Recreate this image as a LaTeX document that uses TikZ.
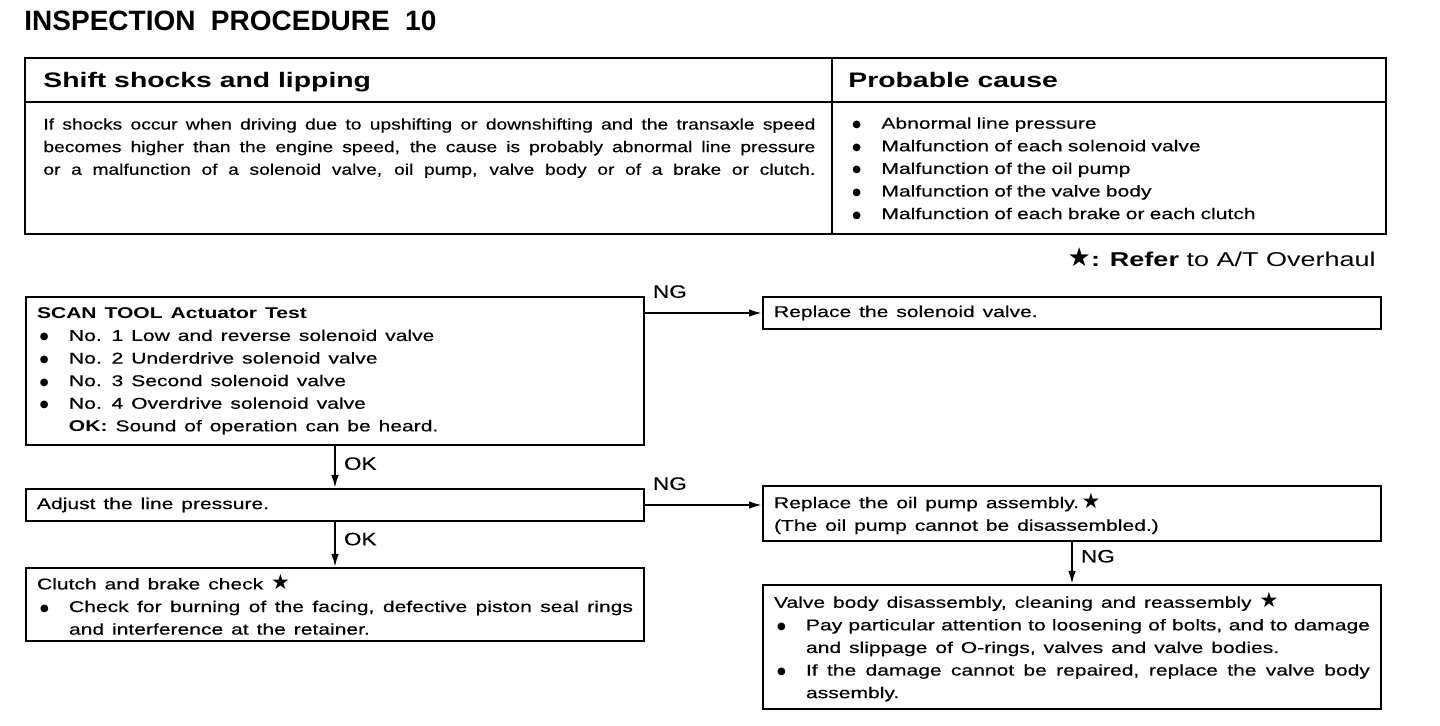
\documentclass[tikz,border=0pt]{standalone}
\usepackage{fontspec}
\setmainfont[FakeStretch=1.35,WordSpace=1.35,UprightFeatures={FakeBold=0.4}]{Liberation Sans}
\newfontfamily\titlefont{Liberation Sans}
\newfontfamily\headfont[FakeStretch=1.35]{Liberation Sans}
\newfontfamily\descfont[FakeStretch=1.25,UprightFeatures={FakeBold=0.4}]{Liberation Sans}
\newfontfamily\symfont{DejaVu Sans}
\usetikzlibrary{arrows.meta, positioning}

\newcommand{\bodytext}{\fontsize{7.8pt}{11.3pt}\selectfont\hyphenpenalty=10000}
\newcommand{\refstar}{{\symfont\mdseries\fontsize{10.5pt}{11.3pt}\selectfont ★}}
\newcommand{\dotmark}{{\symfont\mdseries\fontsize{5pt}{5pt}\selectfont\raisebox{0.5pt}{●}}}
\newcommand{\bitem}[1]{\hangindent=16pt\hangafter=1\noindent\makebox[16pt][l]{\hspace{1.5pt}\dotmark}#1\par}

\tikzset{
  flowbox/.style={draw, line width=1pt, anchor=north west, minimum width=309pt,
    text width=298pt, inner xsep=5.5pt, inner ysep=0pt, align=justify, font=\bodytext},
  flowarrow/.style={line width=1pt, -{Latex[length=6.5pt,width=3.8pt]}},
  flowlabel/.style={font=\descfont\fontsize{9pt}{10pt}\selectfont, inner sep=1pt},
  headtext/.style={font=\headfont\fontsize{10.5pt}{12pt}\selectfont\bfseries, inner sep=0pt, anchor=base west},
}

\begin{document}
\begin{tikzpicture}[x=0.5pt, y=-0.5pt]
  \useasboundingbox (0,0) rectangle (1440,726);

  % Titre
  \node[anchor=base west, inner sep=0pt, font=\titlefont\fontsize{14pt}{16pt}\selectfont\bfseries]
    (title) at (24,31) {INSPECTION\hspace{0.55em}PROCEDURE\hspace{0.55em}10};

  % Tableau
  \draw[line width=1pt] (25,58) rectangle (1386,234);
  \draw[line width=1pt] (25,102) -- (1386,102);
  \draw[line width=1pt] (832,58) -- (832,234);
  \node[headtext] (symptom) at (43,88) {Shift shocks and lipping};
  \node[headtext] (cause) at (848,88) {Probable cause};
  \node[anchor=north west, inner sep=0pt, text width=386pt, align=justify,
    font=\descfont\fontsize{7.7pt}{11.3pt}\selectfont] (symptomtext) at (43,118)
    {\parfillskip=0pt If shocks occur when driving due to upshifting or downshifting and the transaxle speed\linebreak
     becomes higher than the engine speed, the cause is probably abnormal line pressure\linebreak
     or a malfunction of a solenoid valve, oil pump, valve body or of a brake or clutch.\par};
  \node[anchor=north west, inner sep=0pt, text width=260pt, align=left, font=\bodytext]
    (causelist) at (849,117)
    {\bitem{Abnormal line pressure}
     \bitem{Malfunction of each solenoid valve}
     \bitem{Malfunction of the oil pump}
     \bitem{Malfunction of the valve body}
     \bitem{Malfunction of each brake or each clutch}};
  \node[anchor=base east, inner sep=0pt, font=\headfont\fontsize{10pt}{12pt}\selectfont]
    (note) at (1376,267) {{\symfont\bfseries\fontsize{13pt}{12pt}\selectfont ★}{\bfseries: Refer} to A/T Overhaul};

  % Etapes
  \node[flowbox, minimum height=74pt] (scan) at (25,296)
    {{\bfseries SCAN TOOL Actuator Test}\par
     \bitem{No. 1 Low and reverse solenoid valve}
     \bitem{No. 2 Underdrive solenoid valve}
     \bitem{No. 3 Second solenoid valve}
     \bitem{No. 4 Overdrive solenoid valve}
     \hspace*{16pt}{\bfseries OK:} Sound of operation can be heard.};
  \node[flowbox, minimum height=16pt] (solenoid) at (762,296) {Replace the solenoid valve.};
  \node[flowbox, minimum height=16pt] (adjust) at (25,488) {Adjust the line pressure.};
  \node[flowbox, minimum height=27.5pt] (pump) at (762,485)
    {Replace the oil pump assembly.\,\refstar\par
     (The oil pump cannot be disassembled.)};
  \node[flowbox, minimum height=36.5pt] (clutch) at (25,567)
    {Clutch and brake check \refstar\par
     \bitem{Check for burning of the facing, defective piston seal rings\linebreak
       and interference at the retainer.}};
  \node[flowbox, minimum height=62pt] (valve) at (762,584)
    {Valve body disassembly, cleaning and reassembly \refstar\par
     \bitem{Pay particular attention to loosening of bolts, and to damage\linebreak
       and slippage of O-rings, valves and valve bodies.}
     \bitem{If the damage cannot be repaired, replace the valve body\linebreak
       assembly.}};

  % Fleches
  \draw[flowarrow] (scan.east |- solenoid.west) -- (solenoid.west)
    node[flowlabel, pos=0, anchor=south west, xshift=2.5pt, yshift=6pt] {NG};
  \draw[flowarrow] (scan.south) -- (adjust.north)
    node[flowlabel, pos=0.42, anchor=west, xshift=3pt] {OK};
  \draw[flowarrow] (adjust.east) -- (adjust.east -| pump.west)
    node[flowlabel, pos=0, anchor=south west, xshift=2.5pt, yshift=6pt] {NG};
  \draw[flowarrow] (adjust.south) -- (clutch.north)
    node[flowlabel, pos=0.38, anchor=west, xshift=3pt] {OK};
  \draw[flowarrow] (pump.south) -- (valve.north)
    node[flowlabel, pos=0.34, anchor=west, xshift=3pt] {NG};
\end{tikzpicture}
\end{document}
